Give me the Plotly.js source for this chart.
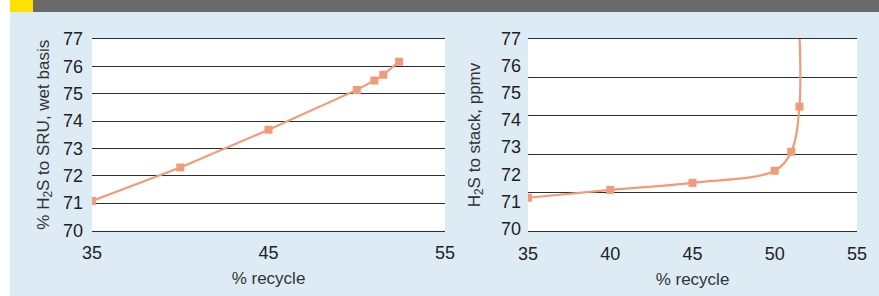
<!DOCTYPE html>
<html>
<head>
<meta charset="utf-8">
<script src="https://cdn.plot.ly/plotly-3.0.1.min.js"></script>
<style>
  html, body { margin: 0; padding: 0; width: 879px; height: 296px; overflow: hidden; background: #ffffff; }
  #bg { position: absolute; left: 10px; top: 0; width: 869px; height: 296px; background: #ddebf5; }
  #band { position: absolute; left: 33px; top: 0; width: 846px; height: 12px; background: #6a6a6a; }
  #mark { position: absolute; left: 10px; top: 0; width: 23px; height: 12px; background: #ffe000; }
  #chart { position: absolute; left: 0; top: 0; width: 879px; height: 296px; }
</style>
</head>
<body>
<div id="bg"></div>
<div id="band"></div>
<div id="mark"></div>
<div id="chart"></div>
<script>
// Left chart: % H2S to SRU vs % recycle
const recycleLeft = [35, 40, 45, 50, 51, 51.5, 52.4];
const h2sSRU = [71.08, 72.3, 73.68, 75.14, 75.48, 75.69, 76.17];

// Right chart: H2S to stack vs % recycle (last line point runs off the top)
const recycleRight = [35, 40, 45, 50, 51, 51.5];
const h2sStack = [71.13, 71.42, 71.68, 72.13, 72.83, 74.5];
const recycleRightLineEnd = 51.45;
const h2sStackLineEnd = 78;

// Tick labels
const leftYTicks = [70, 71, 72, 73, 74, 75, 76, 77];
const leftXTicks = [35, 45, 55];
const rightYTicks = [70, 71, 72, 73, 74, 75, 76, 77];
const rightGridVals = [71.32, 72.74, 74.16, 75.58];
const rightXTicks = [35, 40, 45, 50, 55];

const salmon = '#f29b79';
const gridCol = '#2e2e2e';
const fontFam = '"Liberation Sans", Arial, sans-serif';

const traces = [
  {
    x: recycleLeft, y: h2sSRU, xaxis: 'x', yaxis: 'y',
    mode: 'lines+markers', type: 'scatter',
    line: {color: salmon, width: 2.2},
    marker: {symbol: 'square', size: 8, color: salmon},
    hoverinfo: 'skip'
  },
  {
    x: recycleRight.concat([recycleRightLineEnd]),
    y: h2sStack.concat([h2sStackLineEnd]),
    xaxis: 'x2', yaxis: 'y2',
    mode: 'lines', type: 'scatter',
    line: {color: salmon, width: 2.2, shape: 'spline', smoothing: 1},
    hoverinfo: 'skip'
  },
  {
    x: recycleRight, y: h2sStack, xaxis: 'x2', yaxis: 'y3',
    mode: 'markers', type: 'scatter',
    marker: {symbol: 'square', size: 8, color: salmon},
    hoverinfo: 'skip'
  }
];

const tickFont = {family: fontFam, size: 18, color: '#222'};
const titleFont = {family: fontFam, size: 17, color: '#333'};

const layout = {
  width: 879, height: 296,
  margin: {l: 0, r: 0, t: 0, b: 0},
  paper_bgcolor: 'rgba(0,0,0,0)',
  plot_bgcolor: '#ffffff',
  showlegend: false,
  xaxis: {
    domain: [92/879, 445/879], range: [35, 55],
    tickvals: leftXTicks, ticktext: leftXTicks.map(String),
    showgrid: false, zeroline: false,
    showline: true, mirror: true, linecolor: gridCol, linewidth: 1,
    ticks: '',
    ticklabelstandoff: 6,
    tickfont: tickFont,
    title: {text: '% recycle', font: titleFont, standoff: 10},
    anchor: 'y', fixedrange: true
  },
  yaxis: {
    domain: [1 - 230.5/296, 1 - 39/296], range: [70, 77],
    tickvals: leftYTicks, ticktext: leftYTicks.map(String),
    showgrid: true, gridcolor: gridCol, gridwidth: 1,
    zeroline: false, showline: false, ticks: '',
    ticklabelstandoff: 8,
    tickfont: tickFont,
    title: {text: '% H<sub>2</sub>S to SRU, wet basis', font: titleFont, standoff: 9},
    anchor: 'x', fixedrange: true
  },
  xaxis2: {
    domain: [528/879, 857/879], range: [35, 55],
    tickvals: rightXTicks, ticktext: rightXTicks.map(String),
    showgrid: false, zeroline: false,
    showline: true, mirror: true, linecolor: gridCol, linewidth: 1,
    ticks: '',
    ticklabelstandoff: 6,
    tickfont: tickFont,
    title: {text: '% recycle', font: titleFont, standoff: 10},
    anchor: 'y2', fixedrange: true
  },
  yaxis2: {
    domain: [1 - 231/296, 1 - 39/296], range: [69.9, 77],
    tickvals: rightYTicks, ticktext: rightYTicks.map(String),
    showgrid: false, zeroline: false, showline: false, ticks: '',
    ticklabelstandoff: 6,
    tickfont: tickFont,
    title: {text: 'H<sub>2</sub>S to stack, ppmv', font: titleFont, standoff: 16},
    anchor: 'x2', fixedrange: true
  },
  yaxis3: {
    overlaying: 'y2', anchor: 'x2', range: [69.9, 77],
    tickvals: rightGridVals, showticklabels: false,
    showgrid: true, gridcolor: gridCol, gridwidth: 1,
    zeroline: false, showline: false, ticks: '', fixedrange: true
  }
};

Plotly.newPlot('chart', traces, layout, {staticPlot: true, displayModeBar: false});
</script>
</body>
</html>
